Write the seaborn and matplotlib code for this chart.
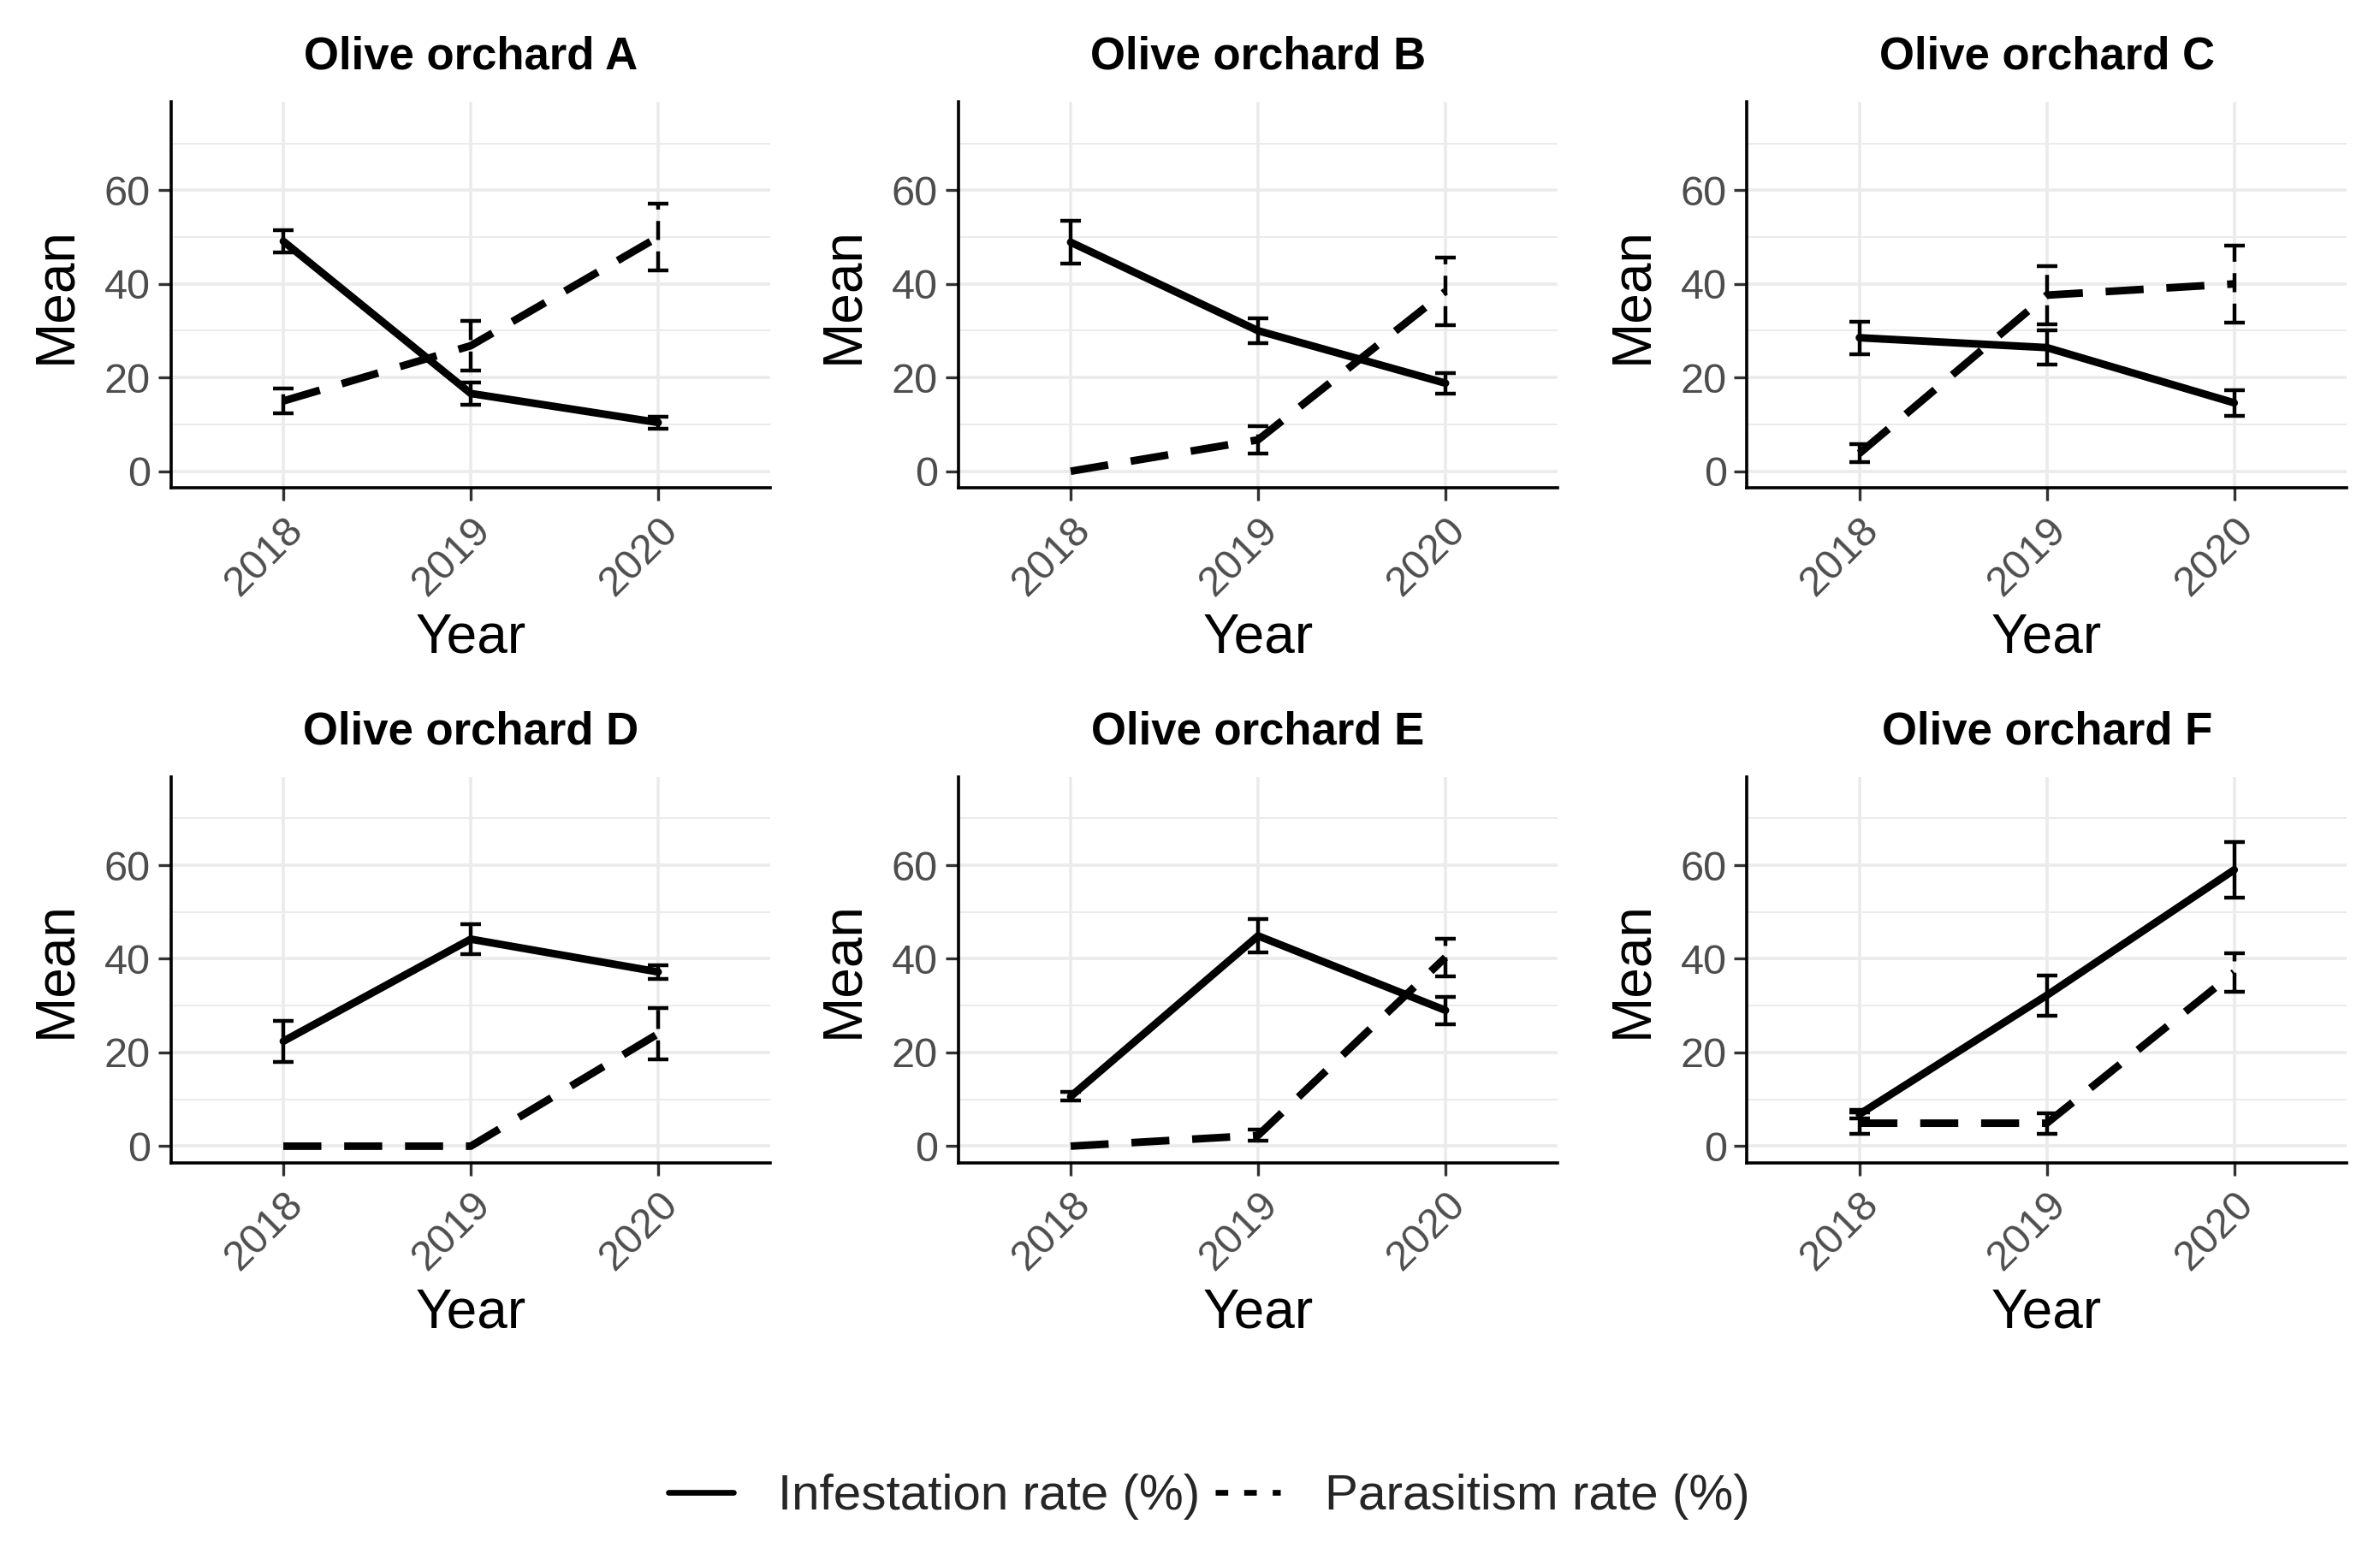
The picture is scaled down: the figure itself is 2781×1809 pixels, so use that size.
import seaborn as sns
import numpy as np
import pandas as pd
import matplotlib.pyplot as plt
from matplotlib.lines import Line2D
from matplotlib.ticker import MultipleLocator

years = [2018, 2019, 2020]
orchards = ["A", "B", "C", "D", "E", "F"]

# mean and error bar half-width, one row per orchard
infest_mean = [[49.1, 16.6, 10.4],
               [48.9, 30.0, 18.8],
               [28.5, 26.4, 14.6],
               [22.4, 44.2, 37.2],
               [10.6, 44.9, 29.0],
               [6.8, 32.2, 59.0]]
infest_err = [[2.4, 2.4, 1.3],
              [4.6, 2.7, 2.2],
              [3.5, 3.7, 2.7],
              [4.4, 3.2, 1.5],
              [0.9, 3.6, 2.9],
              [0.9, 4.3, 6.0]]
paras_mean = [[15.0, 26.8, 50.0],
              [0.0, 6.7, 38.4],
              [3.8, 37.6, 40.0],
              [0.0, 0.0, 24.0],
              [0.0, 2.3, 40.3],
              [4.9, 4.9, 37.1]]
paras_err = [[2.6, 5.3, 7.1],
             [0.0, 2.9, 7.2],
             [1.9, 6.2, 8.2],
             [0.0, 0.0, 5.5],
             [0.0, 1.2, 4.0],
             [2.3, 2.2, 4.1]]

lab_inf = "Infestation rate (%)"
lab_par = "Parasitism rate (%)"

rows = []
for i, o in enumerate(orchards):
    for j, y in enumerate(years):
        rows.append([o, y, lab_inf, infest_mean[i][j], infest_err[i][j]])
        rows.append([o, y, lab_par, paras_mean[i][j], paras_err[i][j]])
df = pd.DataFrame(rows, columns=["Orchard", "Year", "Variable", "Mean", "Err"])

sns.set_theme(style="white")
plt.rcParams['font.family'] = ['Liberation Sans', 'DejaVu Sans']

fig = plt.figure(figsize=(13.905, 9.045), dpi=200)

lefts = [0.0718, 0.4026, 0.734]
bottoms = [0.685, 0.249]
w, h = 0.252, 0.249

lw_main = 3.2
dash_main = (5, 3)

for i, o in enumerate(orchards):
    ax = fig.add_axes([lefts[i % 3], bottoms[i // 3], w, h])
    sub = df[df["Orchard"] == o]
    sns.lineplot(data=sub, x="Year", y="Mean", style="Variable",
                 dashes={lab_inf: "", lab_par: dash_main},
                 style_order=[lab_inf, lab_par],
                 color="black", linewidth=lw_main, errorbar=None,
                 legend=False, ax=ax, zorder=3)
    for line in ax.get_lines():
        line.set_dash_capstyle('butt')
    for var, ls in [(lab_inf, '-'), (lab_par, (0, (5, 3)))]:
        s = sub[sub["Variable"] == var]
        s = s[s["Err"] > 0]
        eb = ax.errorbar(s["Year"], s["Mean"], yerr=s["Err"], fmt='none',
                         ecolor="black", elinewidth=1.6, capsize=4.3,
                         capthick=1.6, zorder=4)
        eb[2][0].set_linestyle(ls)

    ax.set_xlim(2017.4, 2020.6)
    ax.set_ylim(-3.5, 78.8)
    ax.set_xticks(years)
    ax.set_yticks([0, 20, 40, 60])
    ax.yaxis.set_minor_locator(MultipleLocator(10))
    ax.grid(True, which='major', color='#ebebeb', linewidth=1.3, zorder=0)
    ax.grid(True, which='minor', axis='y', color='#ebebeb', linewidth=0.7, zorder=0)
    ax.set_axisbelow(True)
    for sp in ['top', 'right']:
        ax.spines[sp].set_visible(False)
    for sp in ['left', 'bottom']:
        ax.spines[sp].set_color('black')
        ax.spines[sp].set_linewidth(1.3)
    ax.tick_params(axis='both', which='major', length=5.5, width=1.2, color='#333333',
                   labelsize=17.5, labelcolor='#4d4d4d', left=True, bottom=True)
    ax.tick_params(axis='x', pad=4)
    ax.tick_params(axis='y', pad=3)
    ax.tick_params(axis='y', which='minor', length=0)
    for t in ax.get_xticklabels():
        t.set_rotation(45)
        t.set_ha('right')
        t.set_va('top')
        t.set_rotation_mode('anchor')
    ax.set_xlabel("Year", fontsize=23, color='black', labelpad=4)
    ax.set_ylabel("Mean", fontsize=23, color='black', labelpad=9.5)
    ax.set_title("Olive orchard " + o, fontsize=19, fontweight='bold', color='black', pad=14)

handles = [Line2D([], [], color='black', linewidth=2.4),
           Line2D([], [], color='black', linewidth=2.4, dashes=(2.2, 2.8))]
fig.legend(handles, [lab_inf, lab_par], loc='center', bbox_to_anchor=(0.508, 0.033),
           ncol=2, frameon=False, fontsize=21, handlelength=1.3,
           columnspacing=0.3, handletextpad=0.9)

fig.savefig("out.png", dpi=200, facecolor='white')
